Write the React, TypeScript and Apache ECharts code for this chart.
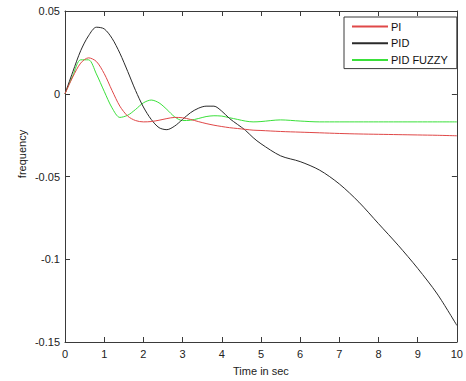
import React, { useEffect, useRef } from "react";
import * as echarts from "echarts";

const times = [0, 0.2, 0.4, 0.6, 0.8, 1.0, 1.2, 1.4, 1.6, 1.8, 2.0, 2.2, 2.4, 2.6, 2.8, 3.0, 3.2, 3.4, 3.6, 3.8, 4.0, 4.2, 4.4, 4.6, 4.8, 5.0, 5.5, 6.0, 6.5, 7.0, 7.5, 8.0, 8.5, 9.0, 9.5, 10];

const piValues = [0, 0.0102, 0.0185, 0.0217, 0.0195, 0.0122, 0.002, -0.0075, -0.0135, -0.0162, -0.017, -0.0168, -0.016, -0.015, -0.0143, -0.0145, -0.0155, -0.0168, -0.018, -0.019, -0.0198, -0.0205, -0.021, -0.0215, -0.022, -0.0222, -0.0228, -0.0232, -0.0236, -0.024, -0.0243, -0.0245, -0.0247, -0.0249, -0.0251, -0.0254];

const pidValues = [0, 0.0133, 0.026, 0.035, 0.0402, 0.0392, 0.0335, 0.0245, 0.0135, 0.002, -0.008, -0.0155, -0.0205, -0.0217, -0.0195, -0.0155, -0.0115, -0.0088, -0.0075, -0.0075, -0.0105, -0.015, -0.0185, -0.022, -0.0265, -0.0302, -0.0375, -0.041, -0.0462, -0.0545, -0.0655, -0.0785, -0.0915, -0.1055, -0.121, -0.14];

const fuzzyValues = [0, 0.011, 0.0205, 0.0205, 0.012, 0.0015, -0.0085, -0.0143, -0.013, -0.0095, -0.0055, -0.0038, -0.0055, -0.0095, -0.014, -0.0162, -0.016, -0.015, -0.0138, -0.0133, -0.0135, -0.0145, -0.0155, -0.0165, -0.017, -0.0168, -0.0158, -0.0165, -0.017, -0.017, -0.017, -0.017, -0.017, -0.017, -0.017, -0.017];

const seriesNames = ["PI", "PID", "PID FUZZY"];
const seriesColors = ["#e04848", "#2a2a2a", "#3ae03a"];

const xLabel = "Time in sec";
const yLabel = "frequency";

const FONT = "Liberation Sans, Arial, sans-serif";
const AXIS_COLOR = "#3a3a3a";

export default function App() {
  const ref = useRef<HTMLDivElement>(null);
  useEffect(() => {
    document.body.style.margin = "0";
    if (!ref.current) return;
    const chart = echarts.init(ref.current, null, { renderer: "svg" });
    const pair = (vals: number[]) => times.map((t, i) => [t, vals[i]]);
    const allValues = [piValues, pidValues, fuzzyValues];
    const axisCommon = {
      type: "value" as const,
      axisLine: { show: true, onZero: false, lineStyle: { color: AXIS_COLOR, width: 1 } },
      axisTick: { show: true, inside: true, length: 5, lineStyle: { color: AXIS_COLOR } },
      splitLine: { show: false },
    };
    chart.setOption({
      animation: false,
      backgroundColor: "#ffffff",
      grid: { left: 65, right: 5, top: 11, bottom: 38, containLabel: false },
      xAxis: [
        {
          ...axisCommon,
          position: "bottom",
          min: 0,
          max: 10,
          interval: 1,
          axisLabel: { color: "#222", fontFamily: FONT, fontSize: 11, margin: 6 },
          name: xLabel,
          nameLocation: "middle",
          nameGap: 23,
          nameTextStyle: { color: "#222", fontFamily: FONT, fontSize: 11 },
        },
        {
          ...axisCommon,
          position: "top",
          min: 0,
          max: 10,
          interval: 1,
          axisLabel: { show: false },
        },
      ],
      yAxis: [
        {
          ...axisCommon,
          position: "left",
          min: -0.15,
          max: 0.05,
          interval: 0.05,
          axisLabel: {
            color: "#222",
            fontFamily: FONT,
            fontSize: 11,
            margin: 5,
            formatter: (v: number) => String(+v.toFixed(2)),
          },
        },
        {
          ...axisCommon,
          position: "right",
          min: -0.15,
          max: 0.05,
          interval: 0.05,
          axisLabel: { show: false },
        },
      ],
      graphic: [
        {
          type: "text",
          x: 22,
          y: 154,
          rotation: Math.PI / 2,
          style: {
            text: yLabel,
            fill: "#222",
            font: `11px ${FONT}`,
            textAlign: "center",
            textVerticalAlign: "middle",
          },
        },
      ],
      legend: {
        orient: "vertical",
        left: 344,
        top: 17,
        itemWidth: 36,
        itemHeight: 14,
        itemGap: 5.5,
        padding: [4, 9, 3, 7],
        borderColor: AXIS_COLOR,
        borderWidth: 1,
        backgroundColor: "#ffffff",
        itemStyle: { opacity: 0 },
        textStyle: { color: "#111", fontFamily: FONT, fontSize: 11, padding: [0, 0, 0, -2] },
        data: seriesNames,
      },
      series: seriesNames.map((name, i) => ({
        name,
        type: "line",
        data: pair(allValues[i]),
        smooth: 0.3,
        showSymbol: false,
        symbol: "none",
        lineStyle: { color: seriesColors[i], width: 1 },
        itemStyle: { color: seriesColors[i] },
        z: 3 - i,
      })),
    });
    return () => chart.dispose();
  }, []);
  return <div ref={ref} style={{ width: 466, height: 381 }} />;
}
